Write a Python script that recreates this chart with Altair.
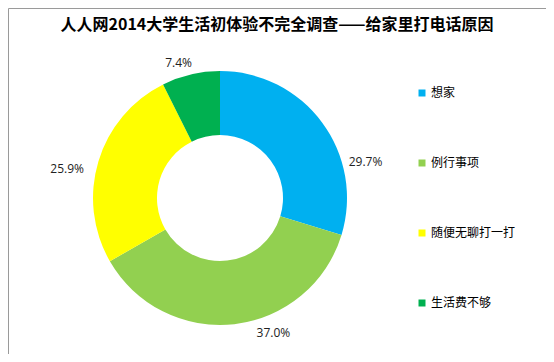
import altair as alt
import pandas as pd

categories = ["想家", "例行事项", "随便无聊打一打", "生活费不够"]
values = [29.7, 37.0, 25.9, 7.4]
colors = ["#00B0F0", "#92D050", "#FFFF00", "#00B050"]
title_text = "人人网2014大学生活初体验不完全调查——给家里打电话原因"

df = pd.DataFrame({"cat": categories, "value": values, "order": list(range(len(categories)))})

CX, CY = 212, 190

base = alt.Chart(df).encode(
    theta=alt.Theta("value:Q", stack=True),
    order=alt.Order("order:Q", sort="ascending"),
    x=alt.value(CX),
    y=alt.value(CY),
)

arcs = base.mark_arc(innerRadius=63, outerRadius=127, stroke=None).encode(
    color=alt.Color(
        "cat:N",
        scale=alt.Scale(domain=categories, range=colors),
        sort=categories,
        legend=alt.Legend(
            title=None,
            orient="none",
            legendX=408,
            legendY=79,
            direction="vertical",
            symbolType="square",
            symbolSize=49,
            symbolStrokeWidth=0,
            labelFont="Noto Sans CJK SC",
            labelFontSize=12,
            labelColor="#000000",
            labelOffset=3,
            rowPadding=58,
        ),
    )
)

# label nudges (Excel-style best-fit placement), applied on top of mid-angle positions
nudges = {"想家": (29, 50), "例行事项": (37, -9), "随便无聊打一打": (-14, 13), "生活费不够": (-8, 6)}

label_layers = []
for cat, (ddx, ddy) in nudges.items():
    label_layers.append(
        base.transform_calculate(lbl="format(datum.value, '.1f') + '%'")
        .mark_text(radius=145, font="Open Sans", fontSize=12, color="#222222", dx=ddx, dy=ddy)
        .encode(text="lbl:N", opacity=alt.condition(alt.datum.cat == cat, alt.value(1), alt.value(0)))
    )

chart = (
    alt.layer(arcs, *label_layers)
    .properties(
        width=538,
        height=346,
        autosize=alt.AutoSizeParams(type="none"),
        padding=0,
        title=alt.TitleParams(
            title_text,
            font="Noto Sans CJK SC",
            fontSize=16,
            fontWeight="bold",
            color="#000000",
            anchor="middle",
            frame="group",
            baseline="middle",
            offset=-33,
        ),
    )
    .configure_view(stroke="#9a9a9a", strokeWidth=1)
)

chart.save("out.html", embed_options={"renderer": "svg", "actions": False})
